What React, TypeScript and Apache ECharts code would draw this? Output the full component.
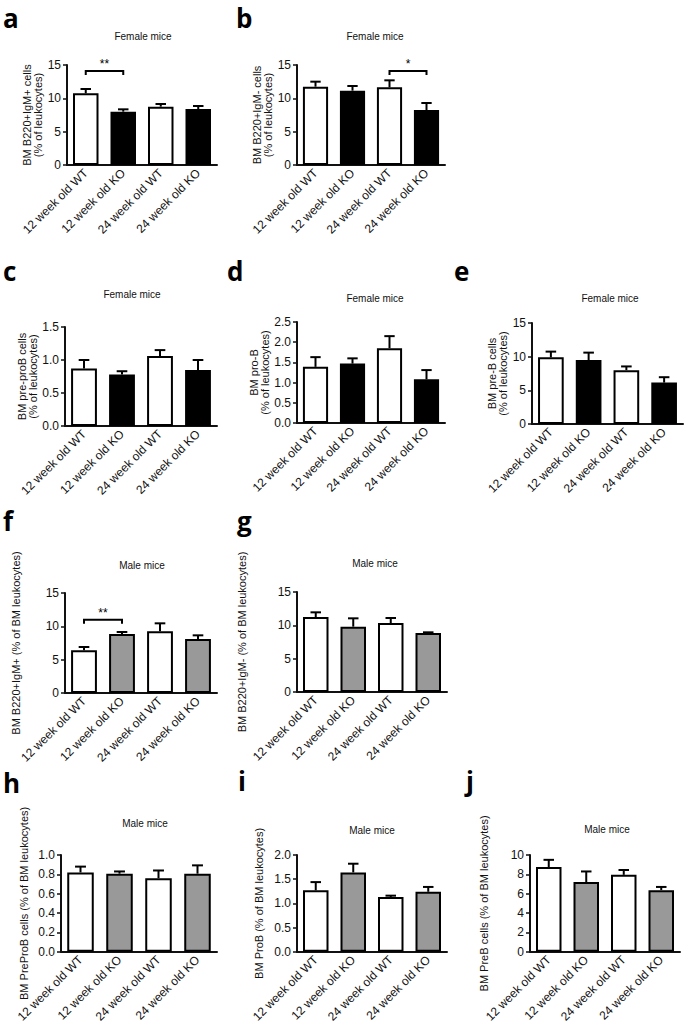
import React, { useEffect, useRef } from "react";
import * as echarts from "echarts";

const categories = ["12 week old WT", "12 week old KO", "24 week old WT", "24 week old KO"];

// mean values and upper error-bar ends (mean + SEM)
const aMeans = [10.75, 8.0, 8.75, 8.4];
const aTops = [11.4, 8.35, 9.15, 8.85];
const bMeans = [11.75, 11.15, 11.65, 8.25];
const bTops = [12.5, 11.85, 12.7, 9.3];
const cMeans = [0.87, 0.78, 1.06, 0.85];
const cTops = [1.0, 0.83, 1.15, 1.0];
const dMeans = [1.39, 1.47, 1.85, 1.08];
const dTops = [1.63, 1.6, 2.15, 1.31];
const eMeans = [9.9, 9.5, 8.0, 6.15];
const eTops = [10.75, 10.6, 8.55, 6.95];
const fMeans = [6.4, 8.85, 9.25, 8.1];
const fTops = [6.9, 9.15, 10.45, 8.65];
const gMeans = [11.25, 9.8, 10.35, 8.85];
const gTops = [11.95, 11.05, 11.1, 8.95];
const hMeans = [0.82, 0.807, 0.76, 0.807];
const hTops = [0.88, 0.83, 0.84, 0.893];
const iMeans = [1.27, 1.64, 1.13, 1.24];
const iTops = [1.44, 1.82, 1.16, 1.34];
const jMeans = [8.75, 7.2, 7.95, 6.37];
const jTops = [9.5, 8.3, 8.45, 6.7];

// significance brackets: [from category, to category, height, label]
const aSig = [0, 1, 14.1, "**"];
const bSig = [2, 3, 14.1, "*"];
const fSig = [0, 1, 11.0, "**"];

const FEMALE = "Female mice";
const MALE = "Male mice";

const panels = [
  { letter: "a", title: FEMALE, yName: "BM B220+IgM+ cells\n(% of leukocytes)", means: aMeans, tops: aTops, max: 15, interval: 5, dec: 0, male: false, sig: aSig },
  { letter: "b", title: FEMALE, yName: "BM B220+IgM- cells\n(% of leukocytes)", means: bMeans, tops: bTops, max: 15, interval: 5, dec: 0, male: false, sig: bSig },
  { letter: "c", title: FEMALE, yName: "BM pre-proB cells\n(% of leukocytes)", means: cMeans, tops: cTops, max: 1.5, interval: 0.5, dec: 1, male: false, sig: null },
  { letter: "d", title: FEMALE, yName: "BM pro-B\n(% of leukocytes)", means: dMeans, tops: dTops, max: 2.5, interval: 0.5, dec: 1, male: false, sig: null },
  { letter: "e", title: FEMALE, yName: "BM pre-B cells\n(% of leukocytes)", means: eMeans, tops: eTops, max: 15, interval: 5, dec: 0, male: false, sig: null },
  { letter: "f", title: MALE, yName: "BM B220+IgM+ (% of BM leukocytes)", means: fMeans, tops: fTops, max: 15, interval: 5, dec: 0, male: true, sig: fSig },
  { letter: "g", title: MALE, yName: "BM B220+IgM- (% of BM leukocytes)", means: gMeans, tops: gTops, max: 15, interval: 5, dec: 0, male: true, sig: null },
  { letter: "h", title: MALE, yName: "BM PreProB cells (% of BM leukocytes)", means: hMeans, tops: hTops, max: 1.0, interval: 0.2, dec: 1, male: true, sig: null },
  { letter: "i", title: MALE, yName: "BM ProB (% of BM leukocytes)", means: iMeans, tops: iTops, max: 2.0, interval: 0.5, dec: 1, male: true, sig: null },
  { letter: "j", title: MALE, yName: "BM PreB cells (% of BM leukocytes)", means: jMeans, tops: jTops, max: 10, interval: 2, dec: 0, male: true, sig: null },
];

// layout (pixels) for each panel, same order as panels
const layouts = [
  { left: 67, top: 65, width: 150, height: 100, gap: 22, tx: 143, ty: 36, lx: 3, ly: 18 },
  { left: 297, top: 65, width: 148, height: 100, gap: 20, tx: 375, ty: 36, lx: 236, ly: 18 },
  { left: 65, top: 327, width: 152, height: 99, gap: 23, tx: 132, ty: 294, lx: 3, ly: 271 },
  { left: 297, top: 322, width: 148, height: 101, gap: 20, tx: 375, ty: 298, lx: 227, ly: 271 },
  { left: 532, top: 323, width: 151, height: 101, gap: 21, tx: 610, ty: 298, lx: 454, ly: 271 },
  { left: 65, top: 593, width: 152, height: 100, gap: 44, tx: 142, ty: 565, lx: 3, ly: 521 },
  { left: 297, top: 592, width: 150, height: 100, gap: 50, tx: 375, ty: 563, lx: 237, ly: 521 },
  { left: 61, top: 855, width: 156, height: 100, gap: 32, tx: 145, ty: 823, lx: 3, ly: 783 },
  { left: 297, top: 855, width: 150, height: 102, gap: 33, tx: 372, ty: 830, lx: 238, ly: 781 },
  { left: 530, top: 855, width: 150, height: 101, gap: 41, tx: 607, ty: 829, lx: 466, ly: 781 },
];

const FONT = "'Liberation Sans', Arial, sans-serif";
const INK = "#111";
const BLACK_FILL = "#000";
const GRAY_FILL = "#999";

function buildOption() {
  const grid: any[] = [];
  const xAxis: any[] = [];
  const yAxis: any[] = [];
  const series: any[] = [];
  const graphic: any[] = [];

  panels.forEach((p, k) => {
    const L = layouts[k];
    grid.push({ left: L.left, top: L.top, width: L.width, height: L.height, containLabel: false });
    xAxis.push({
      type: "category",
      gridIndex: k,
      data: categories,
      axisLine: { lineStyle: { color: INK, width: 2 } },
      axisTick: { alignWithLabel: true, length: 4, lineStyle: { color: INK, width: 1.5 } },
      axisLabel: { rotate: 45, fontSize: 12, color: INK, fontFamily: FONT, margin: 6, interval: 0 },
    });
    yAxis.push({
      type: "value",
      gridIndex: k,
      min: 0,
      max: p.max,
      interval: p.interval,
      name: p.yName,
      nameLocation: "middle",
      nameGap: L.gap,
      nameTextStyle: { fontSize: 11, color: INK, fontFamily: FONT, lineHeight: 11 },
      splitLine: { show: false },
      axisLine: { show: true, lineStyle: { color: INK, width: 2 } },
      axisTick: { show: true, length: 4, lineStyle: { color: INK, width: 1.5 } },
      axisLabel: {
        fontSize: 12,
        color: INK,
        fontFamily: FONT,
        margin: 6,
        formatter: (v: number) => v.toFixed(p.dec),
      },
    });
    const koFill = p.male ? GRAY_FILL : BLACK_FILL;
    series.push({
      type: "bar",
      xAxisIndex: k,
      yAxisIndex: k,
      barWidth: "68%",
      z: 3,
      data: p.means.map((v, i) => ({
        value: v,
        itemStyle: { color: i % 2 === 0 ? "#fff" : koFill, borderColor: "#000", borderWidth: 2 },
      })),
    });
    series.push({
      type: "custom",
      xAxisIndex: k,
      yAxisIndex: k,
      z: 2,
      data: p.tops.map((t, i) => [i, p.means[i], t]),
      encode: { x: 0, y: [1, 2] },
      renderItem: (params: any, api: any) => {
        const x = api.value(0);
        const base = api.coord([x, api.value(1)]);
        const top = api.coord([x, api.value(2)]);
        const half = api.size([1, 0])[0] * 0.14;
        return {
          type: "group",
          children: [
            { type: "line", shape: { x1: base[0], y1: base[1], x2: top[0], y2: top[1] }, style: { stroke: "#000", lineWidth: 2 } },
            { type: "line", shape: { x1: top[0] - half, y1: top[1], x2: top[0] + half, y2: top[1] }, style: { stroke: "#000", lineWidth: 2 } },
          ],
        };
      },
    });
    if (p.sig) {
      series.push({
        type: "custom",
        xAxisIndex: k,
        yAxisIndex: k,
        z: 4,
        data: [p.sig],
        encode: { x: [0, 1], y: 2 },
        renderItem: (params: any, api: any) => {
          const a = api.coord([api.value(0), api.value(2)]);
          const b = api.coord([api.value(1), api.value(2)]);
          const label = (p.sig as any[])[3];
          return {
            type: "group",
            children: [
              {
                type: "polyline",
                shape: { points: [[a[0], a[1] + 4], [a[0], a[1]], [b[0], b[1]], [b[0], b[1] + 4]] },
                style: { stroke: "#000", lineWidth: 2, fill: "none" },
              },
              {
                type: "text",
                x: (a[0] + b[0]) / 2,
                y: a[1] - 7,
                style: { text: label, fill: "#000", font: `12px ${FONT}`, textAlign: "center", textVerticalAlign: "middle" },
              },
            ],
          };
        },
      });
    }
    graphic.push({
      type: "text",
      x: L.tx,
      y: L.ty,
      style: { text: p.title, fill: INK, font: `10px ${FONT}`, textAlign: "center", textVerticalAlign: "middle" },
    });
    graphic.push({
      type: "text",
      x: L.lx,
      y: L.ly,
      style: { text: p.letter, fill: "#000", font: `bold 26px 'Open Sans', sans-serif`, textAlign: "left", textVerticalAlign: "middle" },
    });
  });

  return {
    animation: false,
    backgroundColor: "#fff",
    grid,
    xAxis,
    yAxis,
    series,
    graphic,
  };
}

export default function App() {
  const ref = useRef<HTMLDivElement>(null);
  useEffect(() => {
    document.body.style.margin = "0";
    const chart = echarts.init(ref.current!, null, { renderer: "svg" });
    chart.setOption(buildOption() as any);
    return () => chart.dispose();
  }, []);
  return <div ref={ref} style={{ width: 685, height: 1025, background: "#fff" }} />;
}
